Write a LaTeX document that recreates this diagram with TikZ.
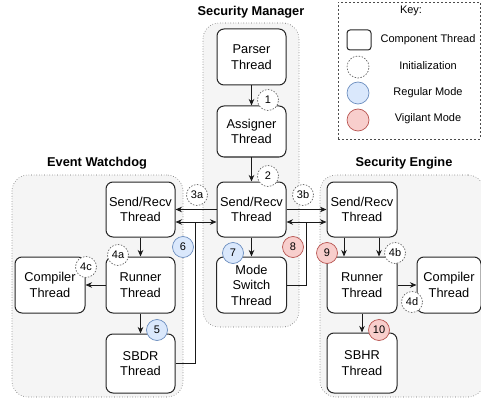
\documentclass[tikz,border=0pt]{standalone}
\usepackage{fontspec}
\setmainfont{Liberation Sans}
\usetikzlibrary{arrows.meta}
\definecolor{blueF}{HTML}{DAE8FC}
\definecolor{blueD}{HTML}{6C8EBF}
\definecolor{redF}{HTML}{F8CECC}
\definecolor{redD}{HTML}{B85450}
\definecolor{contF}{HTML}{F5F5F5}
\definecolor{contD}{HTML}{666666}
\begin{document}
\begin{tikzpicture}[x=1pt,y=-1pt,
  comp/.style={draw=black!85, line width=1pt, rounded corners=7pt, fill=white, align=center, inner sep=0pt, font=\fontsize{12.8}{15.5}\selectfont},
  cont/.style={draw=contD, dotted, line width=0.6pt, fill=contF, rounded corners=16pt, inner sep=0pt},
  ttl/.style={font=\bfseries\fontsize{12.8}{15}\selectfont},
  badge/.style={circle, minimum size=21pt, inner sep=0pt, font=\fontsize{11}{13}\selectfont, line width=0.7pt},
  init/.style={badge, draw=black!60, dash pattern=on 1.5pt off 1.5pt, fill=white},
  reg/.style={badge, draw=blueD, fill=blueF},
  vig/.style={badge, draw=redD, fill=redF},
  arr/.style={-{Stealth[length=6.5pt,width=5.5pt,inset=2pt]}, line width=0.8pt, draw=black!90},
  ln/.style={line width=0.8pt, draw=black!90},
  keytxt/.style={font=\fontsize{11}{13}\selectfont}]

\useasboundingbox (0,0) rectangle (481,398);

% containers
\node[cont, minimum width=96pt, minimum height=304pt] (smc) at (251,175) {};
\node[cont, minimum width=171pt, minimum height=222pt] (ewc) at (97.5,286) {};
\node[cont, minimum width=164pt, minimum height=222pt] (sec) at (402,286) {};

% titles
\node[ttl] (smt) at (251,12) {Security Manager};
\node[ttl] (ewt) at (97,163) {Event Watchdog};
\node[ttl] (set) at (404,163) {Security Engine};

% key
\node[draw=black!70, dash pattern=on 2pt off 2pt, line width=0.6pt, minimum width=142pt, minimum height=137pt, inner sep=0pt] (keybox) at (409,70.5) {};
\node[keytxt] (keyt) at (411,11) {Key:};
\node[draw=black!85, line width=1pt, rounded corners=3pt, minimum width=24pt, minimum height=20pt, inner sep=0pt] (k1) at (359,40) {};
\node[init, minimum size=22pt] (k2) at (358,67) {};
\node[reg, minimum size=22pt] (k3) at (358,93) {};
\node[vig, minimum size=22pt] (k4) at (358,120) {};
\node[keytxt] (k1t) at (428,40) {Component Thread};
\node[keytxt] (k2t) at (428,66) {Initialization};
\node[keytxt] (k3t) at (428,93) {Regular Mode};
\node[keytxt] (k4t) at (428,119) {Vigilant Mode};

% Security Manager
\node[comp, minimum width=69pt, minimum height=56pt] (parser) at (251.5,57) {Parser\\Thread};
\node[comp, minimum width=69pt, minimum height=51pt] (assigner) at (251.5,131.5) {Assigner\\Thread};
\node[comp, minimum width=69pt, minimum height=55pt] (smsr) at (251.5,209.5) {Send/Recv\\Thread};
\node[comp, minimum width=70pt, minimum height=56pt] (mode) at (251.5,285) {Mode\\Switch\\Thread};

% Event Watchdog
\node[comp, minimum width=69pt, minimum height=55pt] (ewsr) at (140.5,209.5) {Send/Recv\\Thread};
\node[comp, minimum width=69pt, minimum height=56pt] (ewrun) at (140.5,285) {Runner\\Thread};
\node[comp, minimum width=70pt, minimum height=56pt] (ewcomp) at (50,285) {Compiler\\Thread};
\node[comp, minimum width=69pt, minimum height=59pt] (sbdr) at (140.5,363.5) {SBDR\\Thread};

% Security Engine
\node[comp, minimum width=70pt, minimum height=55pt] (sesr) at (362,209.5) {Send/Recv\\Thread};
\node[comp, minimum width=70pt, minimum height=56pt] (serun) at (362,285) {Runner\\Thread};
\node[comp, minimum width=64pt, minimum height=56pt] (secomp) at (449,285) {Compiler\\Thread};
\node[comp, minimum width=70pt, minimum height=60pt] (sbhr) at (362,363) {SBHR\\Thread};

% junctions
\coordinate (j1) at (195,222);
\coordinate (j2) at (306,222);
\coordinate (sx1) at (344,0);
\coordinate (sx2) at (379,0);

% SM arrows
\draw[arr] (parser) -- (assigner);
\draw[arr] (assigner) -- (smsr);
\draw[arr] (smsr) -- (mode);

% cross links
\draw[arr] (smsr.west) -- (smsr.west -| ewsr.east);
\draw[arr] (smsr.east) -- (smsr.east -| sesr.west);
\draw[ln] (sbdr.east) -- (sbdr.east -| j1) -- (j1);
\draw[arr] (j1) -- (j1 -| ewsr.east);
\draw[arr] (j1) -- (j1 -| smsr.west);
\draw[ln] (mode.east) -- (mode.east -| j2) -- (j2);
\draw[arr] (j2) -- (j2 -| smsr.east);
\draw[arr] (j2) -- (j2 -| sesr.west);

% EW arrows
\draw[arr] (ewsr) -- (ewrun);
\draw[arr] (ewrun) -- (ewcomp);
\draw[arr] (ewrun) -- (sbdr);

% SE arrows
\draw[arr] (sesr.south -| sx1) -- (serun.north -| sx1);
\draw[arr] (sesr.south -| sx2) -- (serun.north -| sx2);
\draw[arr] (serun) -- (secomp);
\draw[arr] (serun) -- (sbhr);

% badges
\node[init] (b1) at (268,100) {1};
\node[init] (b2) at (268,176) {2};
\node[init] (b3a) at (197,195) {3a};
\node[init] (b3b) at (303,195) {3b};
\node[init] (b4a) at (118,255) {4a};
\node[init] (b4b) at (395,253) {4b};
\node[init] (b4c) at (86,267) {4c};
\node[init] (b4d) at (412,302) {4d};
\node[reg] (b5) at (157,330) {5};
\node[reg] (b6) at (183,247) {6};
\node[reg] (b7) at (233,253) {7};
\node[vig] (b8) at (293,247) {8};
\node[vig] (b9) at (327,253) {9};
\node[vig] (b10) at (379,330) {10};
\end{tikzpicture}
\end{document}
